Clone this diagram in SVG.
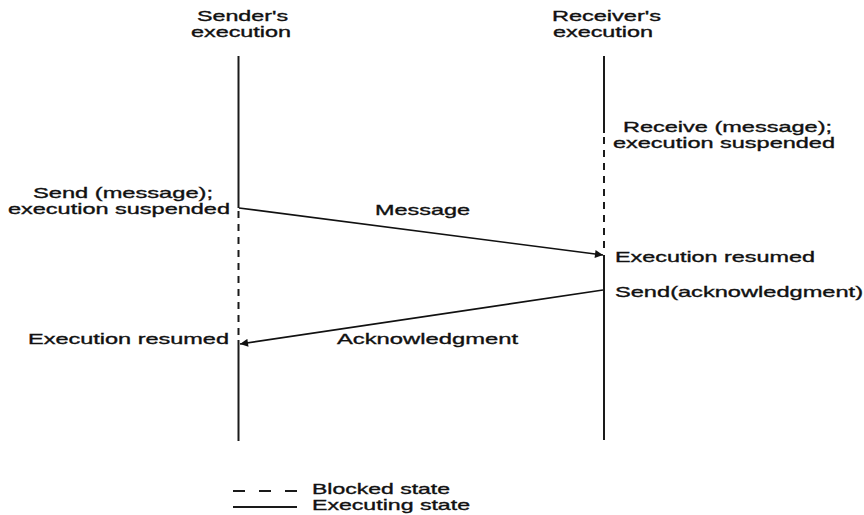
<svg xmlns="http://www.w3.org/2000/svg" width="864" height="515" viewBox="0 0 864 515">
  <style>
    text { font-family: "Liberation Sans", Arial, sans-serif; font-size: 15px; fill: #111; stroke: #111; stroke-width: 0.35; }
    .exec { stroke: #1a1a1a; stroke-width: 2; fill: none; }
    .blocked { stroke: #1a1a1a; stroke-width: 2; fill: none; stroke-dasharray: 7 6; }
    .msg { stroke: #111; stroke-width: 1.7; fill: none; marker-end: url(#arrow); }
  </style>
  <defs>
    <marker id="arrow" viewBox="0 0 10 10" refX="10" refY="5" markerWidth="11" markerHeight="8" markerUnits="userSpaceOnUse" orient="auto">
      <path d="M0,0 L10,5 L0,10 z" fill="#111"/>
    </marker>
  </defs>

  <!-- sender timeline -->
  <g id="sender">
    <text x="197" y="21" textLength="91" lengthAdjust="spacingAndGlyphs">Sender's</text>
    <text x="191" y="37" textLength="100" lengthAdjust="spacingAndGlyphs">execution</text>
    <line class="exec" x1="238.5" y1="56" x2="238.5" y2="208"/>
    <line class="blocked" x1="238.5" y1="211" x2="238.5" y2="338"/>
    <line class="exec" x1="238.5" y1="340" x2="238.5" y2="441"/>
  </g>

  <!-- receiver timeline -->
  <g id="receiver">
    <text x="552" y="21" textLength="109" lengthAdjust="spacingAndGlyphs">Receiver's</text>
    <text x="553" y="37" textLength="100" lengthAdjust="spacingAndGlyphs">execution</text>
    <line class="exec" x1="604" y1="56" x2="604" y2="133"/>
    <line class="blocked" x1="604" y1="137" x2="604" y2="252"/>
    <line class="exec" x1="604" y1="255" x2="604" y2="440"/>
  </g>

  <!-- event labels -->
  <g id="recv-call">
    <text x="623" y="132" textLength="209" lengthAdjust="spacingAndGlyphs">Receive (message);</text>
    <text x="613" y="148" textLength="222" lengthAdjust="spacingAndGlyphs">execution suspended</text>
  </g>
  <g id="send-call">
    <text x="33" y="198" textLength="180" lengthAdjust="spacingAndGlyphs">Send (message);</text>
    <text x="8" y="214" textLength="222" lengthAdjust="spacingAndGlyphs">execution suspended</text>
  </g>
  <g id="recv-resumed">
    <text x="615" y="262" textLength="200" lengthAdjust="spacingAndGlyphs">Execution resumed</text>
  </g>
  <g id="send-ack">
    <text x="615" y="297" textLength="248" lengthAdjust="spacingAndGlyphs">Send(acknowledgment)</text>
  </g>
  <g id="send-resumed">
    <text x="28" y="344" textLength="201" lengthAdjust="spacingAndGlyphs">Execution resumed</text>
  </g>

  <!-- messages -->
  <g id="connectors">
    <line class="msg" x1="239" y1="208" x2="603" y2="255"/>
    <text x="375" y="215" textLength="95" lengthAdjust="spacingAndGlyphs">Message</text>
    <line class="msg" x1="603" y1="290" x2="240" y2="344"/>
    <text x="337" y="344" textLength="181" lengthAdjust="spacingAndGlyphs">Acknowledgment</text>
  </g>

  <!-- legend -->
  <g id="legend">
    <line class="exec" x1="233" y1="491" x2="297" y2="491" stroke-dasharray="12 14"/>
    <text x="312" y="494" textLength="138" lengthAdjust="spacingAndGlyphs">Blocked state</text>
    <line class="exec" x1="233" y1="507" x2="297" y2="507"/>
    <text x="312" y="510" textLength="158" lengthAdjust="spacingAndGlyphs">Executing state</text>
  </g>
</svg>
